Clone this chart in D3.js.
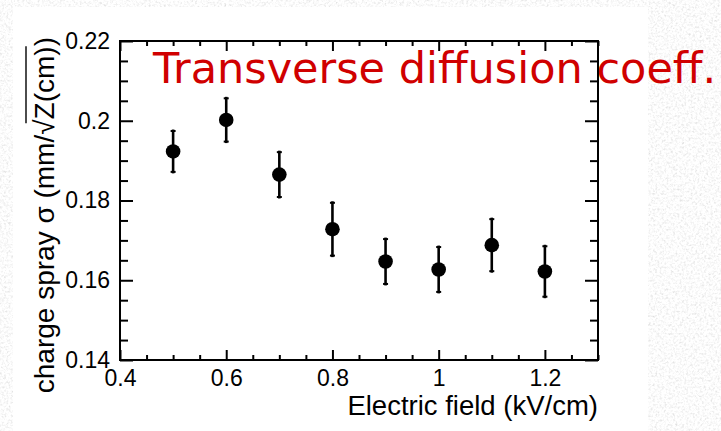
<!DOCTYPE html>
<html>
<head>
<meta charset="utf-8">
<script src="https://cdn.jsdelivr.net/npm/d3@7"></script>
<style>
  html, body { margin: 0; padding: 0; background: #e3e3e3; }
  svg { display: block; }
</style>
</head>
<body>
<div id="chart"></div>
<script>
const svgWidth = 721;
const svgHeight = 431;

// data
const fieldValues = [0.5, 0.6, 0.7, 0.8, 0.9, 1.0, 1.1, 1.2];
const sigmaValues = [0.1923, 0.2002, 0.1865, 0.1728, 0.1647, 0.1627, 0.1688, 0.1622];
const sigmaErrors = [0.0055, 0.0058, 0.0060, 0.0070, 0.0060, 0.0060, 0.0069, 0.0067];

const xMajorTicks = [0.4, 0.6, 0.8, 1.0, 1.2];
const xMinorTicks = [0.45, 0.5, 0.55, 0.65, 0.7, 0.75, 0.85, 0.9, 0.95, 1.05, 1.1, 1.15, 1.25, 1.3];
const yMajorTicks = [0.14, 0.16, 0.18, 0.2, 0.22];
const yMinorTicks = [0.145, 0.15, 0.155, 0.165, 0.17, 0.175, 0.185, 0.19, 0.195, 0.205, 0.21, 0.215];

const titleText = 'Transverse diffusion coeff.';
const xTitle = 'Electric field (kV/cm)';
const yTitleHead = 'charge spray σ (mm/';
const yTitleRoot = 'Z(cm)';

const plot = { left: 120, right: 598, top: 41, bottom: 360 };
const sans = '"Liberation Sans", Arial, sans-serif';

const svg = d3.select('#chart').append('svg')
  .attr('width', svgWidth)
  .attr('height', svgHeight);

// mottled grey backdrop
const noise = svg.append('defs').append('filter')
  .attr('id', 'marble')
  .attr('x', 0).attr('y', 0).attr('width', '100%').attr('height', '100%');
noise.append('feTurbulence')
  .attr('type', 'fractalNoise')
  .attr('baseFrequency', 0.45)
  .attr('numOctaves', 3)
  .attr('seed', 4)
  .attr('result', 'n');
noise.append('feColorMatrix')
  .attr('in', 'n')
  .attr('type', 'matrix')
  .attr('values', '0.35 0.35 0 0 0.62  0.35 0.35 0 0 0.62  0.35 0.35 0 0 0.62  0 0 0 0 1');

svg.append('rect')
  .attr('width', svgWidth)
  .attr('height', svgHeight)
  .attr('filter', 'url(#marble)');

svg.append('rect')
  .attr('x', 13)
  .attr('y', 7)
  .attr('width', 635)
  .attr('height', svgHeight - 7)
  .attr('fill', '#fff');

const x = d3.scaleLinear()
  .domain([0.4, 1.3])
  .range([plot.left, plot.right]);

const y = d3.scaleLinear()
  .domain([0.14, 0.22])
  .range([plot.bottom, plot.top]);

const fmt = d => String(+d.toFixed(2));

const drawAxis = (axis, tx, ty, labelled) => {
  const g = svg.append('g')
    .attr('transform', `translate(${tx},${ty})`)
    .call(axis);
  g.select('.domain').remove();
  g.selectAll('line').attr('stroke', '#000').attr('stroke-width', 2);
  if (labelled) {
    g.selectAll('text')
      .attr('fill', '#000')
      .style('font-family', sans)
      .style('font-size', '23px');
  } else {
    g.selectAll('text').remove();
  }
  return g;
};

// major + minor ticks on all four sides
drawAxis(d3.axisBottom(x).tickValues(xMinorTicks).tickSize(-5), 0, plot.bottom, false);
drawAxis(d3.axisBottom(x).tickValues(xMajorTicks).tickSize(-10).tickPadding(10).tickFormat(fmt), 0, plot.bottom, true);
drawAxis(d3.axisTop(x).tickValues(xMinorTicks).tickSize(-5), 0, plot.top, false);
drawAxis(d3.axisTop(x).tickValues(xMajorTicks).tickSize(-10), 0, plot.top, false);
drawAxis(d3.axisLeft(y).tickValues(yMinorTicks).tickSize(-8), plot.left, 0, false);
drawAxis(d3.axisLeft(y).tickValues(yMajorTicks).tickSize(-13).tickPadding(10).tickFormat(fmt), plot.left, 0, true);
drawAxis(d3.axisRight(y).tickValues(yMinorTicks).tickSize(-8), plot.right, 0, false);
drawAxis(d3.axisRight(y).tickValues(yMajorTicks).tickSize(-13), plot.right, 0, false);

svg.append('rect')
  .attr('x', plot.left)
  .attr('y', plot.top)
  .attr('width', plot.right - plot.left)
  .attr('height', plot.bottom - plot.top)
  .attr('fill', 'none')
  .attr('stroke', '#000')
  .attr('stroke-width', 2);

// error bars with small caps
const points = fieldValues.map((f, i) => ({ f, s: sigmaValues[i], e: sigmaErrors[i] }));

const bars = svg.append('g').selectAll('g')
  .data(points)
  .enter()
  .append('g');

bars.append('line')
  .attr('x1', d => x(d.f))
  .attr('x2', d => x(d.f))
  .attr('y1', d => y(d.s + d.e))
  .attr('y2', d => y(d.s - d.e))
  .attr('stroke', '#000')
  .attr('stroke-width', 2.6);

[1, -1].forEach(sign => {
  bars.append('line')
    .attr('x1', d => x(d.f) - 2.5)
    .attr('x2', d => x(d.f) + 2.5)
    .attr('y1', d => y(d.s + sign * d.e) + sign * 1.5)
    .attr('y2', d => y(d.s + sign * d.e) + sign * 1.5)
    .attr('stroke', '#000')
    .attr('stroke-width', 2);
});

bars.append('circle')
  .attr('cx', d => x(d.f))
  .attr('cy', d => y(d.s))
  .attr('r', 7.3)
  .attr('fill', '#000');

// axis titles
svg.append('text')
  .attr('x', plot.right)
  .attr('y', 415)
  .attr('text-anchor', 'end')
  .style('font-family', sans)
  .style('font-size', '27.5px')
  .text(xTitle);

const yPos = 'translate(54,37) rotate(-90)';
const yTitle = svg.append('text')
  .attr('transform', yPos)
  .attr('text-anchor', 'end')
  .style('font-family', sans)
  .style('font-size', '28px');
yTitle.append('tspan').text(yTitleHead);
yTitle.append('tspan').text('√');
yTitle.append('tspan').text(yTitleRoot);
yTitle.append('tspan').text(')');

// bar over the radicand
const node = yTitle.node();
const full = node.getComputedTextLength();
const headW = node.getSubStringLength(0, yTitleHead.length);
const radW = node.getSubStringLength(yTitleHead.length, 1);
const rootW = node.getSubStringLength(yTitleHead.length + 1, yTitleRoot.length);
svg.append('line')
  .attr('transform', yPos)
  .attr('x1', -full + headW + radW * 0.75)
  .attr('x2', -full + headW + radW + rootW)
  .attr('y1', -28)
  .attr('y2', -28)
  .attr('stroke', '#000')
  .attr('stroke-width', 1.4);

// red caption
svg.append('text')
  .attr('x', 153)
  .attr('y', 83)
  .attr('fill', '#d00000')
  .style('font-family', '"DejaVu Sans", Verdana, sans-serif')
  .style('font-size', '43px')
  .text(titleText);
</script>
</body>
</html>
